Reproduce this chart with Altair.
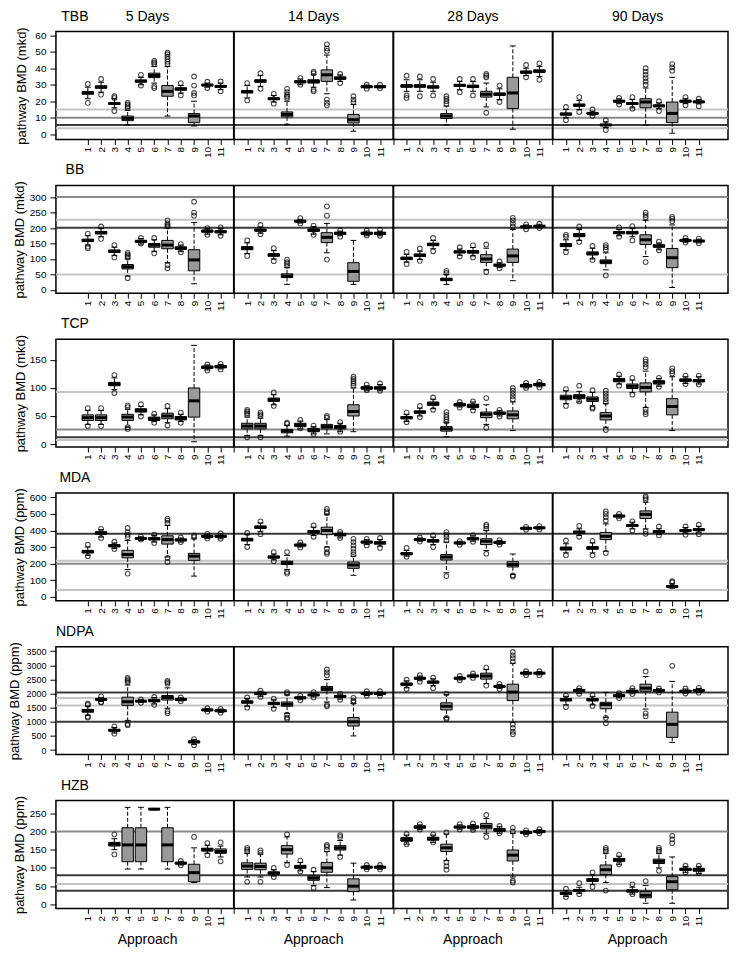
import altair as alt
import pandas as pd

DAYS = ["5 Days", "14 Days", "28 Days", "90 Days"]
APPROACHES = list(range(1, 12))
CHEMICALS = ["TBB", "BB", "TCP", "MDA", "NDPA", "HZB"]
UNITS = ["mkd", "mkd", "mkd", "ppm", "ppm", "ppm"]

# each entry: (whisker low, q1, median, q3, whisker high, [outliers])
TBB_5 = [
    (21.5, 24.3, 25, 25.8, 28.5, [30.5, 19]),
    (25.5, 27.9, 28.6, 29.3, 31.5, [33.5, 24]),
    (16, 18, 18.6, 19.2, 21.5, [23, 22, 14]),
    (5.6, 8.2, 9.6, 11, 14.5, [16, 17, 18, 19]),
    (30, 31.6, 32.2, 32.8, 34.5, [36, 29.5]),
    (31, 34.3, 35.6, 37, 41, [42.5, 43.5, 44.5, 29, 28]),
    (11, 23, 26, 29.5, 41, [42.5, 44, 45.5, 47, 48.5, 49.5]),
    (25, 26.7, 27.4, 28.1, 29.5, [31, 23.5]),
    (5, 7, 11, 12.5, 20, [23.5, 25, 29.5, 35]),
    (28.5, 29.4, 29.8, 30.2, 31, [31.8, 28]),
    (27, 28.5, 29, 29.5, 31, [32, 26]),
]
TBB_14 = [
    (22, 25, 25.8, 26.5, 29.5, [31, 20.5]),
    (29, 31.5, 32.2, 33, 35.5, [37, 27.5]),
    (19.5, 21, 21.5, 22, 23.5, [24.5, 18.5]),
    (6, 10.5, 12, 13.5, 20, [22, 23, 24, 25.5, 27.5]),
    (30, 31.2, 31.8, 32.4, 33.5, [34, 30]),
    (28.5, 31, 32, 33, 36, [37, 38, 27, 26]),
    (24.5, 32, 36, 39, 48, [50.5, 52, 54.5, 21, 19, 17.5]),
    (32, 33.3, 34, 34.7, 36, [36.5, 31]),
    (1.8, 6.8, 8.8, 12, 18, [19.5, 21, 23]),
    (28, 28.4, 28.8, 29.2, 29.8, [30, 27.6]),
    (28, 28.4, 28.8, 29.2, 29.6, [30, 27.8]),
]
TBB_28 = [
    (26, 28.5, 29.2, 30, 33, [35.5, 23.5, 22]),
    (26, 28.5, 29.2, 30, 33, [35, 23]),
    (26, 28, 28.6, 29.3, 31.5, [33.5, 23.5]),
    (5.5, 9.5, 11, 12.5, 17, [18.5, 20, 21.5, 23]),
    (27, 29, 29.6, 30.2, 32, [33.5, 25.5]),
    (26, 28.3, 29, 29.7, 32, [33.5, 23.5]),
    (16.5, 22.5, 24.2, 26, 31, [34.5, 35.5, 36.5, 13]),
    (21, 23.5, 24.2, 25, 27.5, [29.5, 19.5]),
    (3, 15.5, 25, 34.5, 53.5, []),
    (35.5, 37, 37.6, 38.3, 40, [42, 34.5]),
    (35, 37.5, 38.2, 39, 41, [43, 33]),
]
TBB_90 = [
    (10, 11.6, 12.2, 12.8, 15, [16.5, 8.5]),
    (15, 17, 17.6, 18.2, 20.5, [22.5, 13.5]),
    (11.5, 12.2, 12.6, 13, 14, [15, 11]),
    (4, 5.2, 5.6, 6, 7.5, [8.5, 2.5]),
    (18.5, 19.5, 20, 20.5, 21.5, [22, 18]),
    (16, 18, 18.6, 19.2, 21, [22.5, 15.5]),
    (5.5, 16, 19.5, 21.5, 28, [30, 32, 34, 36, 38, 40]),
    (15.5, 16.7, 17.2, 17.7, 19, [20, 14]),
    (0.6, 7, 12.6, 19.5, 34.5, [38.5, 40.5, 42.5]),
    (18.5, 19.5, 20, 20.5, 21.5, [22.5, 17.5]),
    (18.5, 19.2, 19.6, 20, 21, [21.5, 17]),
]

BB_5 = [
    (145, 156, 160, 164, 175, [182, 135, 140]),
    (172, 181, 185, 189, 198, [205, 165]),
    (112, 121, 125, 129, 138, [145, 105]),
    (45, 68, 75, 82, 100, [105, 110, 115, 120, 38]),
    (148, 154, 157, 160, 166, [168, 150]),
    (125, 138, 145, 150, 162, [168, 118]),
    (88, 133, 145, 160, 200, [205, 210, 215, 225, 80, 70]),
    (124, 131, 135, 139, 145, [148, 122]),
    (20, 62, 97, 130, 218, [240, 250, 285]),
    (180, 187, 190, 193, 198, [200, 178]),
    (178, 185, 188, 191, 198, [202, 175]),
]
BB_14 = [
    (118, 130, 135, 140, 152, [160, 110]),
    (183, 190, 193, 196, 203, [210, 180]),
    (100, 109, 113, 117, 127, [135, 93]),
    (18, 40, 45, 52, 72, [78, 85, 90, 98]),
    (216, 220, 222, 224, 228, [232, 215]),
    (180, 189, 193, 197, 205, [208, 178]),
    (120, 153, 170, 185, 215, [240, 270, 98]),
    (175, 180, 183, 186, 190, [193, 172]),
    (18, 28, 60, 88, 160, []),
    (175, 180, 183, 186, 190, [192, 176]),
    (175, 180, 183, 186, 190, [195, 175]),
]
BB_28 = [
    (90, 98, 102, 106, 115, [123, 84]),
    (98, 108, 112, 116, 125, [134, 94]),
    (133, 143, 147, 151, 160, [168, 125]),
    (18, 30, 34, 38, 50, [55, 62]),
    (112, 120, 123, 126, 132, [138, 108]),
    (110, 119, 123, 127, 137, [144, 105]),
    (65, 89, 100, 114, 135, [147, 58]),
    (72, 77, 80, 83, 88, [92, 70]),
    (30, 89, 110, 132, 195, [205, 215, 225, 233]),
    (198, 202, 204, 206, 210, [212, 196]),
    (200, 204, 206, 208, 212, [214, 200]),
]
BB_90 = [
    (130, 140, 145, 150, 162, [172, 178, 122]),
    (160, 172, 177, 182, 195, [205, 155]),
    (100, 113, 118, 123, 135, [142, 97]),
    (65, 85, 91, 97, 120, [130, 138, 145, 47]),
    (175, 182, 185, 188, 195, [202, 172]),
    (172, 181, 185, 189, 198, [206, 160]),
    (108, 147, 162, 178, 225, [235, 242, 250, 90]),
    (130, 138, 142, 146, 152, [156, 128]),
    (8, 72, 104, 134, 210, [222, 230, 236]),
    (154, 158, 160, 162, 166, [168, 153]),
    (152, 156, 158, 160, 164, [166, 151]),
]

TCP_5 = [
    (35, 42, 47, 52, 60, [64, 32]),
    (35, 42, 47, 52, 60, [64, 32]),
    (97, 104, 107, 110, 118, [123, 91]),
    (30, 42, 48, 53, 62, [66, 69, 27, 30]),
    (52, 57, 60, 63, 67, [71, 49]),
    (40, 42, 45, 48, 52, [54, 38]),
    (38, 45, 50, 55, 63, [68, 33]),
    (40, 43, 46, 49, 53, [56, 38]),
    (4, 48, 77, 100, 176, []),
    (132, 135, 137, 139, 141, [142, 131]),
    (134, 136, 138, 140, 142, [143, 133]),
]
TCP_14 = [
    (15, 27, 32, 37, 48, [52, 55, 58, 61, 12]),
    (15, 27, 32, 37, 46, [50, 53, 56, 12]),
    (70, 76, 79, 82, 88, [92, 68]),
    (14, 20, 23, 26, 33, [36, 38]),
    (27, 31, 34, 37, 41, [43, 28]),
    (18, 22, 25, 28, 31, [33, 18]),
    (18, 27, 31, 35, 44, [47, 50]),
    (22, 27, 30, 33, 37, [39, 22]),
    (22, 50, 58, 70, 100, [104, 108, 112, 116, 120]),
    (95, 98, 100, 102, 104, [106, 96]),
    (95, 98, 100, 102, 106, [108, 95]),
]
TCP_28 = [
    (40, 45, 47, 49, 53, [56, 39]),
    (50, 55, 57, 59, 64, [68, 48]),
    (63, 69, 72, 75, 80, [83, 61]),
    (13, 23, 27, 31, 38, [40, 44, 48, 52, 57]),
    (66, 68, 70, 72, 74, [75, 65]),
    (62, 65, 68, 71, 75, [76, 60]),
    (35, 47, 53, 57, 70, [82, 29]),
    (50, 53, 55, 57, 60, [61, 49]),
    (24, 45, 52, 59, 75, [80, 85, 90, 95, 100]),
    (100, 102, 104, 106, 108, [109, 100]),
    (102, 104, 106, 108, 110, [111, 101]),
]
TCP_90 = [
    (72, 79, 83, 87, 95, [98, 68]),
    (75, 81, 85, 88, 94, [104, 76]),
    (68, 76, 80, 84, 92, [96, 63, 65]),
    (30, 43, 50, 56, 72, [75, 80, 85, 90, 95, 25]),
    (107, 111, 114, 117, 121, [124, 104]),
    (92, 99, 103, 107, 114, [118, 88]),
    (65, 93, 101, 109, 130, [137, 142, 147, 151, 62, 57, 53]),
    (103, 107, 110, 113, 117, [118, 102]),
    (24, 52, 67, 81, 120, [126, 130, 135]),
    (108, 112, 114, 116, 120, [122, 107]),
    (107, 111, 113, 115, 120, [122, 106]),
]

MDA_5 = [
    (250, 265, 272, 280, 300, [315, 245]),
    (360, 378, 385, 392, 405, [410, 355]),
    (292, 302, 308, 314, 325, [332, 288]),
    (165, 235, 255, 280, 340, [360, 375, 390, 415, 140]),
    (340, 348, 352, 356, 362, [365, 345]),
    (330, 344, 350, 356, 370, [375, 325]),
    (240, 318, 345, 368, 430, [445, 460, 470, 235, 210]),
    (330, 338, 343, 348, 355, [358, 330]),
    (125, 220, 245, 262, 350, [360, 370]),
    (352, 360, 365, 370, 378, [380, 352]),
    (350, 360, 365, 370, 380, [382, 350]),
]
MDA_14 = [
    (315, 337, 345, 353, 375, [385, 300]),
    (395, 413, 420, 427, 445, [455, 378]),
    (222, 234, 240, 246, 258, [270, 215]),
    (165, 195, 205, 215, 250, [270, 150, 140]),
    (300, 307, 312, 317, 325, [328, 298]),
    (370, 385, 393, 400, 420, [430, 362]),
    (300, 375, 400, 420, 495, [505, 515, 530, 290, 270, 260]),
    (355, 368, 375, 382, 390, [392, 355]),
    (130, 172, 192, 210, 245, [255, 270, 290, 310, 330, 350]),
    (315, 325, 330, 335, 345, [350, 310]),
    (305, 318, 325, 332, 345, [355, 295]),
]
MDA_28 = [
    (245, 254, 260, 266, 280, [295, 242]),
    (335, 341, 345, 349, 355, [358, 333]),
    (315, 330, 338, 345, 360, [370, 300]),
    (145, 222, 240, 255, 330, [340, 360, 375, 390, 125]),
    (315, 321, 325, 329, 335, [336, 314]),
    (335, 345, 350, 355, 368, [372, 332]),
    (280, 315, 335, 350, 400, [410, 425, 435, 260]),
    (315, 323, 328, 333, 340, [342, 315]),
    (135, 180, 195, 212, 258, [130, 122]),
    (405, 410, 413, 416, 420, [422, 404]),
    (408, 413, 416, 419, 424, [426, 406]),
]
MDA_90 = [
    (265, 282, 292, 300, 320, [340, 250]),
    (370, 384, 390, 396, 410, [428, 362]),
    (265, 287, 295, 303, 325, [338, 250]),
    (275, 345, 365, 388, 440, [460, 480, 500, 515, 265]),
    (475, 483, 487, 491, 498, [500, 473]),
    (410, 424, 430, 436, 450, [455, 400]),
    (410, 472, 497, 518, 570, [585, 595, 605, 395, 380]),
    (375, 387, 393, 399, 410, [424, 370]),
    (52, 58, 62, 68, 78, [88, 94]),
    (385, 395, 400, 405, 418, [424, 375]),
    (390, 400, 405, 410, 425, [435, 378]),
]

NDPA_5 = [
    (1230, 1340, 1390, 1440, 1550, [1600, 1640, 1180, 1150]),
    (1720, 1770, 1790, 1810, 1860, [1900, 1700, 1680]),
    (600, 670, 700, 730, 800, [840, 580]),
    (1050, 1580, 1710, 1870, 2300, [2400, 2450, 2500, 2550, 920, 880]),
    (1680, 1710, 1730, 1750, 1780, [1790, 1670]),
    (1630, 1710, 1750, 1790, 1860, [1880, 1600]),
    (1480, 1770, 1860, 1930, 2200, [2350, 2400, 2450, 1370, 1300]),
    (1740, 1770, 1790, 1810, 1850, [1860, 1730]),
    (200, 260, 290, 320, 370, [390, 170]),
    (1370, 1400, 1420, 1440, 1470, [1480, 1360]),
    (1330, 1365, 1390, 1415, 1450, [1460, 1320]),
]
NDPA_14 = [
    (1550, 1660, 1700, 1740, 1820, [1860, 1500]),
    (1900, 1960, 2000, 2040, 2080, [2100, 1880]),
    (1500, 1610, 1650, 1690, 1780, [1820, 1460]),
    (1300, 1550, 1620, 1700, 1950, [2000, 2050, 1250, 1150, 1100]),
    (1780, 1830, 1850, 1870, 1900, [1920, 1760]),
    (1880, 1930, 1950, 1970, 2020, [2050, 1860]),
    (1700, 2100, 2170, 2250, 2500, [2650, 2750, 2850, 1600, 1550]),
    (1800, 1870, 1900, 1930, 1980, [2000, 1780]),
    (500, 850, 1000, 1150, 1650, [1700, 1750, 1850]),
    (1930, 1980, 2000, 2020, 2060, [2080, 1920]),
    (1930, 1980, 2000, 2020, 2060, [2080, 1920]),
]
NDPA_28 = [
    (2200, 2290, 2330, 2370, 2450, [2490, 2160]),
    (2450, 2510, 2540, 2570, 2620, [2650, 2420]),
    (2280, 2370, 2400, 2440, 2520, [2560, 2190]),
    (1150, 1420, 1550, 1670, 1960, [2000, 1140, 1100]),
    (2480, 2520, 2540, 2560, 2600, [2620, 2470]),
    (2560, 2600, 2620, 2640, 2690, [2710, 2550]),
    (2350, 2510, 2620, 2720, 2850, [2920, 2280]),
    (2180, 2230, 2250, 2270, 2320, [2340, 2160]),
    (970, 1750, 2050, 2330, 3070, [3130, 3250, 3350, 3470, 900, 780, 650, 560]),
    (2660, 2700, 2720, 2740, 2780, [2790, 2650]),
    (2660, 2700, 2720, 2740, 2780, [2790, 2650]),
]
NDPA_90 = [
    (1600, 1740, 1780, 1820, 1900, [1930, 1520]),
    (2000, 2080, 2110, 2140, 2180, [2190, 1990]),
    (1600, 1740, 1780, 1820, 1900, [1950, 1560]),
    (1150, 1460, 1610, 1690, 2040, [1140, 950]),
    (1850, 1900, 1925, 1950, 2000, [2010, 1840]),
    (1990, 2050, 2080, 2110, 2170, [2190, 1980]),
    (1450, 2080, 2190, 2330, 2600, [2780, 1300, 1200]),
    (2050, 2090, 2110, 2130, 2170, [2180, 2040]),
    (270, 450, 910, 1340, 2430, [2980]),
    (2010, 2050, 2080, 2110, 2160, [2180, 2000]),
    (2040, 2090, 2110, 2130, 2180, [2200, 2030]),
]

HZB_5 = [
    None,
    None,
    (150, 160, 165, 170, 180, [192, 137]),
    (97, 117, 163, 210, 266, []),
    (97, 117, 163, 210, 266, []),
    (259, 260, 261, 262, 263, []),
    (97, 117, 163, 210, 266, []),
    (108, 111, 113, 115, 118, [119, 107]),
    (60, 62, 87, 110, 155, [185]),
    (140, 146, 150, 154, 162, [168, 135]),
    (130, 140, 145, 152, 160, [170, 118]),
]
HZB_14 = [
    (75, 96, 105, 114, 140, [145, 150, 155, 62]),
    (75, 95, 104, 113, 138, [142, 148, 62]),
    (78, 83, 86, 89, 95, [100, 75]),
    (115, 138, 150, 161, 185, [192, 108]),
    (92, 99, 103, 107, 115, [120, 90]),
    (52, 66, 72, 78, 90, [95, 45]),
    (46, 88, 100, 115, 145, [150, 158, 163]),
    (135, 149, 155, 161, 175, [185, 190, 130]),
    (12, 35, 50, 70, 113, []),
    (96, 100, 102, 104, 107, [108, 96]),
    (96, 100, 102, 104, 107, [108, 96]),
]
HZB_28 = [
    (165, 173, 178, 183, 190, [193, 165]),
    (205, 209, 212, 215, 218, [220, 205]),
    (170, 176, 180, 184, 190, [192, 170]),
    (120, 145, 155, 165, 193, [197, 115, 105, 95]),
    (206, 210, 212, 214, 218, [220, 205]),
    (204, 209, 212, 215, 219, [222, 204]),
    (195, 207, 214, 222, 235, [245, 185]),
    (195, 200, 204, 208, 213, [215, 195]),
    (75, 119, 135, 149, 195, [200, 210, 65, 60]),
    (192, 195, 197, 199, 202, [203, 192]),
    (195, 198, 200, 202, 205, [206, 195]),
]
HZB_90 = [
    (22, 27, 30, 33, 38, [43, 20]),
    (30, 35, 38, 41, 47, [58, 28]),
    (55, 63, 67, 71, 80, [88, 48]),
    (60, 82, 95, 108, 140, [145, 150, 155, 38]),
    (110, 118, 122, 126, 132, [136, 110]),
    (28, 34, 37, 40, 47, [55, 28]),
    (3, 18, 25, 35, 52, [64]),
    (100, 112, 118, 124, 140, [145, 150, 155, 92]),
    (3, 40, 62, 76, 130, [168, 178, 188]),
    (88, 93, 96, 99, 104, [106, 88]),
    (85, 91, 95, 99, 104, [106, 86]),
]

STATS = {
    "TBB": [TBB_5, TBB_14, TBB_28, TBB_90],
    "BB": [BB_5, BB_14, BB_28, BB_90],
    "TCP": [TCP_5, TCP_14, TCP_28, TCP_90],
    "MDA": [MDA_5, MDA_14, MDA_28, MDA_90],
    "NDPA": [NDPA_5, NDPA_14, NDPA_28, NDPA_90],
    "HZB": [HZB_5, HZB_14, HZB_28, HZB_90],
}

# horizontal reference levels (value, shade)
HLINES = {
    "TBB": [(15, "light"), (10, "mid"), (5.6, "dark"), (3.6, "light")],
    "BB": [(300, "mid"), (227, "light"), (201, "dark"), (50, "light")],
    "TCP": [(93, "light"), (26, "mid"), (12, "dark"), (7, "light")],
    "MDA": [(380, "dark"), (218, "light"), (200, "mid"), (42, "light")],
    "NDPA": [(2040, "dark"), (1840, "light"), (1575, "light"), (1000, "dark")],
    "HZB": [(200, "mid"), (80, "dark"), (56, "light"), (37.5, "dark")],
}

Y_TICKS = {
    "TBB": [0, 10, 20, 30, 40, 50, 60],
    "BB": [0, 50, 100, 150, 200, 250, 300],
    "TCP": [0, 50, 100, 150],
    "MDA": [0, 100, 200, 300, 400, 500, 600],
    "NDPA": [0, 500, 1000, 1500, 2000, 2500, 3000, 3500],
    "HZB": [0, 50, 100, 150, 200, 250],
}
Y_DOMAIN = {
    "TBB": [-3.2, 62.2],
    "BB": [-10.6, 337.6],
    "TCP": [-5.4, 187],
    "MDA": [-24, 626],
    "NDPA": [-161, 3654],
    "HZB": [-11, 284.6],
}

# ---------------------------------------------------------------- tables
box_rows, out_rows, hl_rows = [], [], []
for chem in CHEMICALS:
    for d, panel in enumerate(STATS[chem]):
        for a, entry in zip(APPROACHES, panel):
            if entry is None:
                continue
            wlo, q1, med, q3, whi, outs = entry
            pos = 12 * d + a
            box_rows.append(dict(chem=chem, pos=pos, xl=pos - 0.43, xr=pos + 0.43,
                                 cl=pos - 0.22, cr=pos + 0.22,
                                 wlo=wlo, q1=q1, med=med, q3=q3, whi=whi))
            for o in outs:
                out_rows.append(dict(chem=chem, pos=pos, value=o))
    for v, s in HLINES[chem]:
        hl_rows.append(dict(chem=chem, value=v, shade=s))

box_df = pd.DataFrame(box_rows)
out_df = pd.DataFrame(out_rows)
hl_df = pd.DataFrame(hl_rows)

FONT = "Liberation Sans"
W, H = 673, 108
X_DOMAIN = [-1.4, 49.2]
DIVIDERS = [12, 24, 36]
TICK_POS = [12 * d + a for d in range(4) for a in APPROACHES] + DIVIDERS
PANEL_CENTERS = [5.5, 18, 30, 42.4]
TITLE_X = {"TBB": -34, "BB": -36, "TCP": -35, "MDA": -36, "NDPA": -41, "HZB": -36}
LABEL_SIZE = {"TBB": 10, "BB": 10, "TCP": 10, "MDA": 10, "NDPA": 9, "HZB": 10}


def row_chart(i, chem):
    xs = alt.Scale(domain=X_DOMAIN, nice=False, zero=False)
    ys = alt.Scale(domain=Y_DOMAIN[chem], nice=False, zero=False)
    bd = box_df[box_df.chem == chem]
    od = out_df[out_df.chem == chem]
    hd = hl_df[hl_df.chem == chem]

    xaxis = alt.Axis(values=TICK_POS, title=None, grid=False, domain=False,
                     labelExpr="datum.value % 12 == 0 ? '' : '' + (datum.value % 12)",
                     labelAngle=270, labelFontSize=10, labelColor="black",
                     tickSize=5, tickColor="black", labelPadding=2)
    yaxis = alt.Axis(values=Y_TICKS[chem], title="pathway BMD (%s)" % UNITS[i],
                     format="d", grid=False, domain=False,
                     labelFontSize=LABEL_SIZE[chem],
                     labelColor="black", tickSize=6, tickColor="black", labelPadding=4,
                     titleX=TITLE_X[chem], titleY=H / 2, titleAngle=270,
                     titleAlign="center", titleBaseline="middle", titleFontSize=13,
                     titleFontWeight="normal", titleColor="black")

    def X(f):
        return alt.X(f, scale=xs, axis=xaxis)

    def Y(f):
        return alt.Y(f, scale=ys, axis=yaxis)

    hl = alt.Chart(hd).mark_rule(strokeWidth=2).encode(
        y=Y("value:Q"),
        color=alt.Color("shade:N", legend=None,
                        scale=alt.Scale(domain=["light", "mid", "dark"],
                                        range=["#c4c4c4", "#8a8a8a", "#3a3a3a"])),
    )
    div = alt.Chart(pd.DataFrame({"pos": DIVIDERS})).mark_rule(
        color="black", strokeWidth=2).encode(x=X("pos:Q"))

    base = alt.Chart(bd)
    whisk_hi = base.mark_rule(color="black", strokeWidth=1, strokeDash=[4, 2]).encode(
        x=X("pos:Q"), y=Y("q3:Q"), y2="whi:Q")
    whisk_lo = base.mark_rule(color="black", strokeWidth=1, strokeDash=[4, 2]).encode(
        x=X("pos:Q"), y=Y("q1:Q"), y2="wlo:Q")
    cap_hi = base.mark_rule(color="black", strokeWidth=1).encode(
        x=X("cl:Q"), x2="cr:Q", y=Y("whi:Q"))
    cap_lo = base.mark_rule(color="black", strokeWidth=1).encode(
        x=X("cl:Q"), x2="cr:Q", y=Y("wlo:Q"))
    box = base.mark_rect(fill="#999999", stroke="black", strokeWidth=1).encode(
        x=X("xl:Q"), x2="xr:Q", y=Y("q1:Q"), y2="q3:Q")
    med = base.mark_rule(color="black", strokeWidth=3).encode(
        x=X("xl:Q"), x2="xr:Q", y=Y("med:Q"))
    pts = alt.Chart(od).mark_point(shape="circle", filled=False, size=22,
                                   color="black", strokeWidth=1.1).encode(
        x=X("pos:Q"), y=Y("value:Q"))

    title = alt.Chart(pd.DataFrame({"t": [chem]})).mark_text(
        align="center", baseline="middle", fontSize=14, font=FONT, color="black").encode(
        x=alt.value(19), y=alt.value(-15), text="t:N")

    layers = [hl, div, whisk_hi, whisk_lo, cap_hi, cap_lo, box, med, pts, title]

    if i == 0:
        ct = alt.Chart(pd.DataFrame({"pos": PANEL_CENTERS, "t": DAYS})).mark_text(
            align="center", baseline="middle", fontSize=14, font=FONT, color="black").encode(
            x=X("pos:Q"), y=alt.value(-15), text="t:N")
        layers.append(ct)
    if i == len(CHEMICALS) - 1:
        at = alt.Chart(pd.DataFrame({"pos": PANEL_CENTERS,
                                     "t": ["Approach"] * 4})).mark_text(
            align="center", baseline="middle", fontSize=14, font=FONT, color="black").encode(
            x=X("pos:Q"), y=alt.value(H + 32), text="t:N")
        layers.append(at)

    return alt.layer(*layers).properties(width=W, height=H)


rows = [row_chart(i, c) for i, c in enumerate(CHEMICALS)]

chart = (
    alt.vconcat(*rows, spacing=46, bounds="flush")
    .resolve_scale(x="independent", y="independent")
    .properties(padding={"left": 0, "top": 0, "right": 0, "bottom": 0})
    .configure(font=FONT)
    .configure_view(stroke="black", strokeWidth=1.5)
    .configure_axis(labelFont=FONT, titleFont=FONT)
)

chart.save("out.html", embed_options={"renderer": "svg", "actions": False})
